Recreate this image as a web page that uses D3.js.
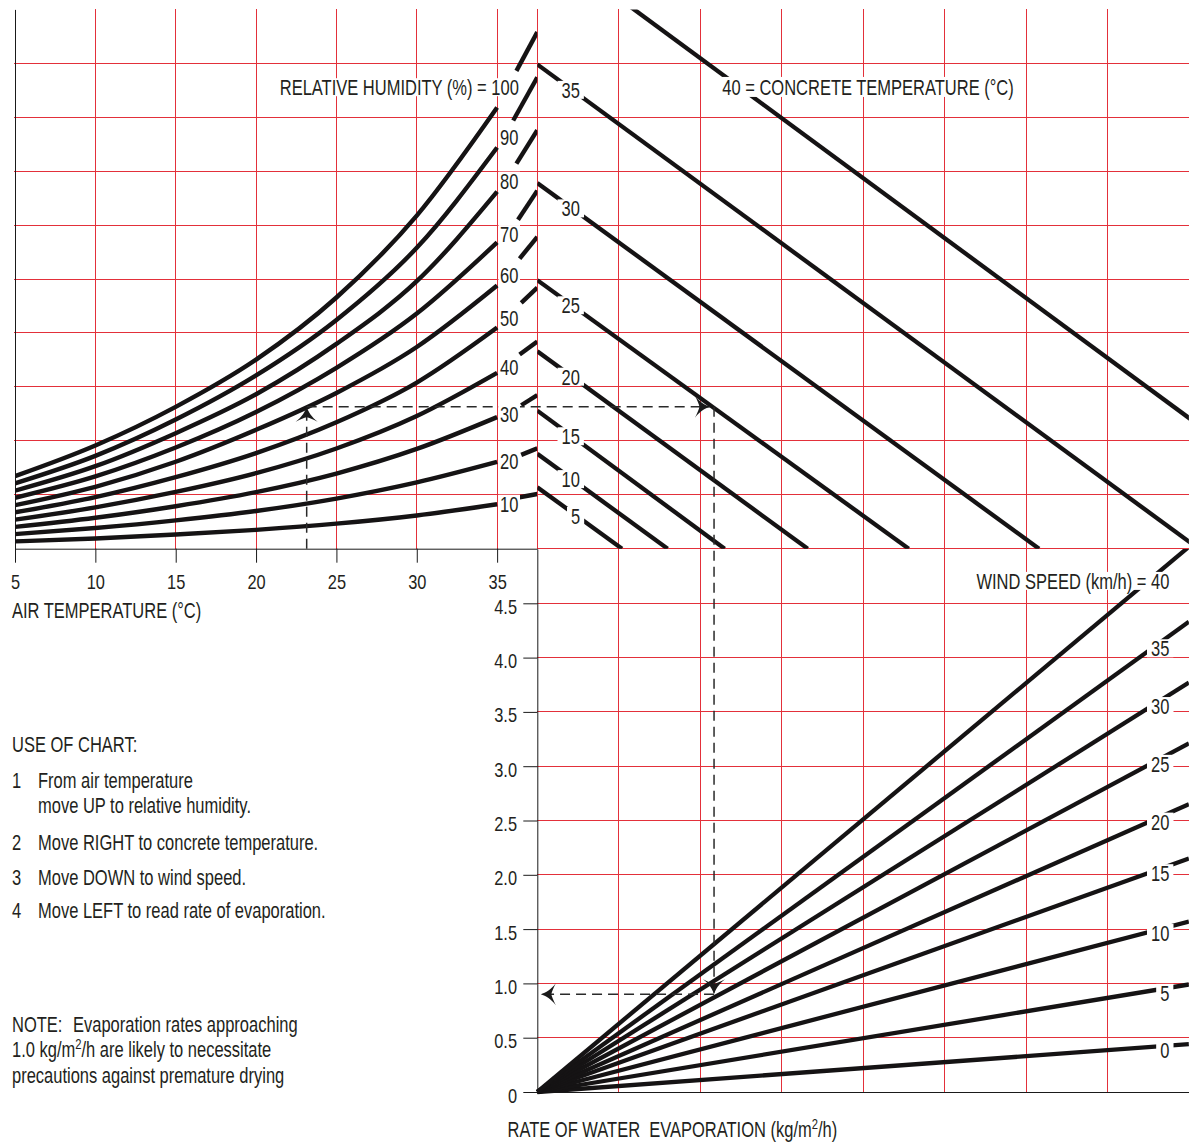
<!DOCTYPE html>
<html>
<head>
<meta charset="utf-8">
<script src="https://cdn.jsdelivr.net/npm/d3@7"></script>
<style>
  body { margin: 0; background: #fff; }
  svg { display: block; }
</style>
</head>
<body>
<div id="chart"></div>
<script>
// ---- values ----
// upper left: humidity curves, level against air temperature
const airTempTicks = [5, 10, 15, 20, 25, 30, 35];
const rhTemps = [5, 10, 15, 20, 25, 30, 35];
const rhLevels = [100, 90, 80, 70, 60, 50, 40, 30, 20, 10];
const rh100 = [6.73, 9.57, 13.15, 17.53, 23.29, 30.88, 40.9];
const rh90 = [6.06, 8.61, 11.98, 16.07, 21.21, 27.9, 37.2];
const rh80 = [5.38, 7.65, 10.71, 14.32, 18.99, 24.8, 33.1];
const rh70 = [4.72, 6.7, 9.38, 12.67, 16.77, 21.8, 28.4];
const rh60 = [4.04, 5.74, 8.06, 11.02, 14.44, 18.7, 24.4];
const rh50 = [3.37, 4.78, 6.63, 8.86, 11.72, 15.4, 20.5];
const rh40 = [2.69, 3.83, 5.26, 7.0, 9.29, 12.3, 16.3];
const rh30 = [2.02, 2.87, 3.94, 5.25, 6.97, 9.25, 12.2];
const rh20 = [1.35, 1.92, 2.63, 3.5, 4.65, 6.15, 8.05];
const rh10 = [0.68, 0.95, 1.31, 1.75, 2.32, 3.08, 4.12];
// short pieces past the labels, running up to the divider (37.5 °C)
const rhTailStartTemp = [36.2, 36.0, 36.2, 36.3, 36.4, 36.5, 36.4, 36.5, 36.5, 36.4];
const rhTailStartLevel = [44.3, 39.7, 35.7, 30.5, 26.9, 22.8, 18.0, 13.3, 8.7, 4.77];
const rhTailEndLevel = [47.9, 43.7, 38.8, 33.2, 28.9, 24.2, 19.2, 14.25, 9.3, 5.07];

// upper right: concrete temperature lines
const concreteTemps = [5, 10, 15, 20, 25, 30, 35, 40];
const concreteLevelAtDivider = [5.7, 8.8, 12.8, 18.3, 24.9, 33.9, 44.9, 56.6];
const concreteDiffAtBase = [5.2, 8.0, 11.5, 16.6, 22.8, 30.8, 40.6, 50.9];

// lower right: wind speed lines, evaporation at the right edge
const windSpeeds = [0, 5, 10, 15, 20, 25, 30, 35, 40];
const windEvapAtEdge = [0.44, 0.99, 1.57, 2.15, 2.65, 3.21, 3.77, 4.33, 5.02];
const evapTicks = [0, 0.5, 1, 1.5, 2, 2.5, 3, 3.5, 4, 4.5];

const levelGrid = [5, 10, 15, 20, 25, 30, 35, 40, 45];
const diffGrid = [5, 10, 15, 20, 25, 30, 35];

// worked example (dashed path)
const exAirTemp = 23.15;
const exLevel = 13.17;
const exArrowDiff = 10.6;
const exDiff = 10.85;
const exEvap = 0.9;

// ---- drawing ----
const FONT = "'Liberation Sans', Arial, Helvetica, sans-serif";
const INK = '#231f20';
const RED = '#e3303a';
const LINE = '#151314';
const SQUEEZE = 0.75; // the original face is a condensed one

const svg = d3.select('#chart').append('svg')
  .attr('width', 1189)
  .attr('height', 1142)
  .style('font-family', FONT);

const xAir = d3.scaleLinear().domain([5, 37.5]).range([15, 537.3]);
const yTop = d3.scaleLinear().domain([0, 50]).range([548.7, 9.4]);
const xVp = d3.scaleLinear().domain([0, 40]).range([537.3, 1188.9]);
const yEvap = d3.scaleLinear().domain([0, 5]).range([1092, 549]);

const defs = svg.append('defs');
function clip(id, x0, y0, x1, y1) {
  defs.append('clipPath').attr('id', id).append('rect')
    .attr('x', x0).attr('y', y0).attr('width', x1 - x0).attr('height', y1 - y0);
}
clip('clip-rh', xAir(5), yTop(50), xAir(37.5), yTop(0) + 3);
clip('clip-con', xVp(0), yTop(50), xVp(40), yTop(0));
clip('clip-wind', xVp(0) - 4, yEvap(5), xVp(40), yEvap(0) + 5);

// grid
const grid = svg.append('g').attr('stroke', RED).attr('stroke-width', 1).attr('shape-rendering', 'crispEdges');
grid.append('g').selectAll('line').data(levelGrid).join('line')
  .attr('x1', xAir(5) - 1).attr('x2', xVp(40))
  .attr('y1', d => yTop(d)).attr('y2', d => yTop(d));
grid.append('line')
  .attr('x1', xVp(0)).attr('x2', xVp(40)).attr('y1', yTop(0)).attr('y2', yTop(0));
grid.append('g').selectAll('line').data(airTempTicks.slice(1)).join('line')
  .attr('x1', d => xAir(d)).attr('x2', d => xAir(d))
  .attr('y1', yTop(50)).attr('y2', yTop(0));
grid.append('line')
  .attr('x1', xVp(0)).attr('x2', xVp(0)).attr('y1', yTop(50)).attr('y2', yTop(0));
grid.append('g').selectAll('line').data(diffGrid).join('line')
  .attr('x1', d => xVp(d)).attr('x2', d => xVp(d))
  .attr('y1', yTop(50)).attr('y2', yEvap(0));
grid.append('g').selectAll('line').data(evapTicks.slice(1)).join('line')
  .attr('x1', xVp(0)).attr('x2', xVp(40))
  .attr('y1', d => yEvap(d)).attr('y2', d => yEvap(d));

// axes
function styleAxis(g, k) {
  g.attr('font-size', 20).attr('font-family', FONT).attr('color', '#1a1a1a');
  g.selectAll('text').attr('fill', INK).attr('transform', `scale(${k},1)`);
}
const airAxis = svg.append('g')
  .attr('transform', `translate(0,${yTop(0)})`)
  .call(d3.axisBottom(xAir).tickValues(airTempTicks).tickSize(14).tickSizeOuter(0).tickPadding(12));
styleAxis(airAxis, 0.82);

const evapAxis = svg.append('g')
  .attr('transform', `translate(${xVp(0)},0)`)
  .call(d3.axisLeft(yEvap).tickValues(evapTicks).tickSize(14).tickSizeOuter(0)
    .tickFormat(d => d === 0 ? '0' : d3.format('.1f')(d)));
styleAxis(evapAxis, 0.82);
evapAxis.selectAll('text').attr('x', -20.3 / 0.82).attr('dy', '0.5em');

svg.append('g')
  .attr('transform', `translate(${xAir(5)},0)`)
  .call(d3.axisLeft(yTop).tickValues([]).tickSizeOuter(0))
  .attr('color', '#1a1a1a');
svg.append('g')
  .attr('transform', `translate(0,${yEvap(0)})`)
  .call(d3.axisBottom(xVp).tickValues([]).tickSizeOuter(0))
  .attr('color', '#1a1a1a');

// humidity curves
const rhSeries = [rh100, rh90, rh80, rh70, rh60, rh50, rh40, rh30, rh20, rh10];
const rhLine = d3.line()
  .x(d => xAir(d[0]))
  .y(d => yTop(d[1]))
  .curve(d3.curveMonotoneX);
const gRh = svg.append('g')
  .attr('clip-path', 'url(#clip-rh)')
  .attr('fill', 'none').attr('stroke', LINE).attr('stroke-width', 4.4);
gRh.selectAll('path.main').data(rhSeries).join('path')
  .attr('class', 'main')
  .attr('d', v => rhLine(rhTemps.map((t, j) => [t, v[j]])));
gRh.selectAll('path.tail').data(rhLevels).join('path')
  .attr('class', 'tail')
  .attr('d', (d, i) => rhLine([[rhTailStartTemp[i], rhTailStartLevel[i]], [37.5, rhTailEndLevel[i]]]));

// concrete temperature lines
const conLine = d3.line().x(d => xVp(d[0])).y(d => yTop(d[1]));
svg.append('g')
  .attr('clip-path', 'url(#clip-con)')
  .attr('fill', 'none').attr('stroke', LINE).attr('stroke-width', 4.3)
  .selectAll('path').data(concreteTemps).join('path')
  .attr('d', (d, i) => conLine([[0, concreteLevelAtDivider[i]], [concreteDiffAtBase[i], 0]]));

// wind speed lines
const windLine = d3.line().x(d => xVp(d[0])).y(d => yEvap(d[1]));
svg.append('g')
  .attr('clip-path', 'url(#clip-wind)')
  .attr('fill', 'none').attr('stroke', LINE).attr('stroke-width', 4.3)
  .selectAll('path').data(windSpeeds).join('path')
  .attr('d', (d, i) => windLine([[0, 0], [40, windEvapAtEdge[i]]]));

// worked example
const gEx = svg.append('g')
  .attr('stroke', '#2a2a2a').attr('stroke-width', 1.5).attr('stroke-dasharray', '10,6');
gEx.append('line')
  .attr('x1', xAir(exAirTemp)).attr('x2', xAir(exAirTemp))
  .attr('y1', yTop(0)).attr('y2', yTop(exLevel));
gEx.append('line')
  .attr('x1', xAir(exAirTemp)).attr('x2', xVp(exArrowDiff))
  .attr('y1', yTop(exLevel)).attr('y2', yTop(exLevel));
gEx.append('line')
  .attr('x1', xVp(exDiff)).attr('x2', xVp(exDiff))
  .attr('y1', yTop(exLevel)).attr('y2', yEvap(exEvap));
gEx.append('line')
  .attr('x1', xVp(exDiff)).attr('x2', xVp(0) + 3.5)
  .attr('y1', yEvap(exEvap)).attr('y2', yEvap(exEvap));

const arrowHead = 'M0,0C-1.5,5 -5,10.5 -11,15C-6,12.5 -2.5,11 0,10.5C2.5,11 6,12.5 11,15C5,10.5 1.5,5 0,0Z';
const arrows = [
  [xAir(exAirTemp), yTop(exLevel), 0],
  [xVp(exArrowDiff), yTop(exLevel), 90],
  [xVp(exDiff), yEvap(exEvap), 180],
  [xVp(0) + 3.5, yEvap(exEvap), -90]
];
svg.append('g').attr('fill', '#1a1a1a')
  .selectAll('path').data(arrows).join('path')
  .attr('d', arrowHead)
  .attr('transform', d => `translate(${d[0]},${d[1]}) rotate(${d[2]})`);

// labels
const gBox = svg.append('g').attr('fill', '#fff');
const gLab = svg.append('g').attr('fill', INK);

function put(x, y, str, anchor = 'start', opts = {}) {
  const size = opts.size || 22;
  const k = opts.k || SQUEEZE;
  const t = gLab.append('text')
    .attr('transform', `translate(${x},${y}) scale(${k},1)`)
    .attr('text-anchor', anchor)
    .attr('font-size', size)
    .text(str);
  if (opts.center) t.attr('dy', '0.36em');
  return t;
}
function box(t, x, y, padX, halfH) {
  const bb = t.node().getBBox();
  gBox.append('rect')
    .attr('x', x + bb.x * SQUEEZE - padX)
    .attr('y', y - halfH)
    .attr('width', bb.width * SQUEEZE + 2 * padX)
    .attr('height', 2 * halfH);
}

rhLevels.forEach((lv, i) => {
  const v = rhSeries[i];
  const first = i === 0;
  const y = (yTop(v[v.length - 1]) + yTop(rhTailStartLevel[i])) / 2 + (first ? -2 : 3);
  const x = first ? xAir(36.35) : xAir(35.75);
  const t = put(x, y, first ? 'RELATIVE HUMIDITY (%) = 100' : String(lv), first ? 'end' : 'middle', { center: true });
  box(t, x, y, first ? 4 : 1.5, 9);
});

concreteTemps.forEach((c, i) => {
  const slope = concreteLevelAtDivider[i] / concreteDiffAtBase[i];
  const levelAt = dx => concreteLevelAtDivider[i] - slope * dx;
  if (c === 40) {
    const dx = 12.4;
    const x = xVp(dx) - 17;
    const y = yTop(levelAt(dx));
    const t = put(x, y, '40 = CONCRETE TEMPERATURE (°C)', 'start', { center: true });
    box(t, x, y, 4, 10);
  } else {
    const dx = String(c).length === 1 ? 2.35 : 2.05;
    const x = xVp(dx);
    const y = yTop(levelAt(dx)) + 1;
    const t = put(x, y, String(c), 'middle', { center: true });
    box(t, x, y, 4, 9);
  }
});

windSpeeds.forEach((w, i) => {
  const last = w === 40;
  const dx = last ? 37.5 : 38.0;
  const x = xVp(38.8);
  const y = yEvap(windEvapAtEdge[i] * dx / 40) + (last ? 0 : 3);
  const t = put(x, y, last ? 'WIND SPEED (km/h) = 40' : String(w), 'end', { center: true });
  box(t, x, y, 4, 9);
});

// axis titles
put(12, 618, 'AIR TEMPERATURE (°C)');
const rateTitle = put(507.5, 1137, '').style('white-space', 'pre');
rateTitle.append('tspan').text('RATE OF WATER  EVAPORATION (kg/m');
rateTitle.append('tspan').attr('dy', -8).attr('font-size', 15).text('2');
rateTitle.append('tspan').attr('dy', 8).attr('font-size', 22).text('/h)');

// instructions
put(12, 752, 'USE OF CHART:');
const steps = [
  ['1', 'From air temperature', 788],
  ['', 'move UP to relative humidity.', 813],
  ['2', 'Move RIGHT to concrete temperature.', 850],
  ['3', 'Move DOWN to wind speed.', 885],
  ['4', 'Move LEFT to read rate of evaporation.', 918]
];
steps.forEach(s => {
  if (s[0]) put(12, s[2], s[0]);
  put(38, s[2], s[1]);
});

put(12, 1032, 'NOTE:');
put(73, 1032, 'Evaporation rates approaching');
const note2 = put(12, 1057, '');
note2.append('tspan').text('1.0 kg/m');
note2.append('tspan').attr('dy', -8).attr('font-size', 15).text('2');
note2.append('tspan').attr('dy', 8).attr('font-size', 22).text('/h are likely to necessitate');
put(12, 1083, 'precautions against premature drying');
</script>
</body>
</html>
